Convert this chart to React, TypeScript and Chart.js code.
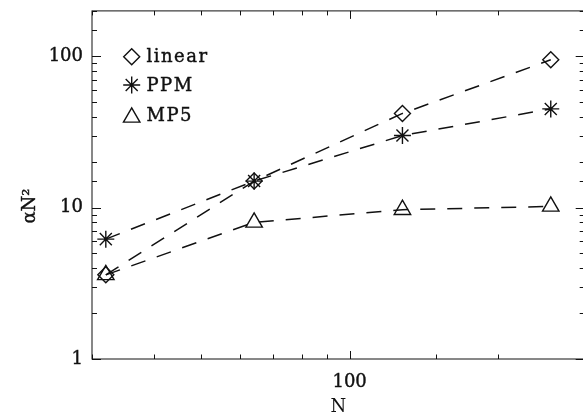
import React, { useEffect, useRef } from 'react';
import { Chart, registerables } from 'chart.js';

Chart.register(...registerables);

// ---- data ----
const nValues = [32, 64, 128, 256];
const linearValues = [3.6, 15, 42, 95];
const ppmValues = [6.2, 15, 30, 45];
const mp5Values = [3.6, 8.0, 9.7, 10.2];
const seriesNames = ['linear', 'PPM', 'MP5'];
const xTickLabels = [100];
const yTickLabels = [1, 10, 100];
const xLabel = 'N';
const yLabel = 'αN²';

const FONT = "'DejaVu Serif', serif";
const INK = '#111';

function isDecade(v: number) {
  const l = Math.log10(v);
  return Math.abs(l - Math.round(l)) < 1e-6;
}

function symbolPath(ctx: CanvasRenderingContext2D, style: string, x: number, y: number, r: number) {
  ctx.beginPath();
  if (style === 'rectRot') {
    ctx.moveTo(x - r, y);
    ctx.lineTo(x, y - r);
    ctx.lineTo(x + r, y);
    ctx.lineTo(x, y + r);
    ctx.closePath();
  } else if (style === 'star') {
    ctx.moveTo(x, y - r); ctx.lineTo(x, y + r);
    ctx.moveTo(x - r, y); ctx.lineTo(x + r, y);
    const d = r * Math.SQRT1_2;
    ctx.moveTo(x - d, y - d); ctx.lineTo(x + d, y + d);
    ctx.moveTo(x - d, y + d); ctx.lineTo(x + d, y - d);
  } else if (style === 'triangle') {
    const s = Math.sin(Math.PI / 3) * r;
    ctx.moveTo(x, y - r * 0.75);
    ctx.lineTo(x + s, y + r * 0.75);
    ctx.lineTo(x - s, y + r * 0.75);
    ctx.closePath();
  }
  ctx.stroke();
}

const framePlugin = {
  id: 'frame',
  afterDraw(chart: any) {
    const { ctx, chartArea: a, scales } = chart;
    ctx.save();
    ctx.strokeStyle = INK;
    ctx.lineWidth = 1;
    ctx.strokeRect(a.left, a.top, a.right - a.left, a.bottom - a.top);
    const seg = (x1: number, y1: number, x2: number, y2: number) => {
      ctx.beginPath(); ctx.moveTo(x1, y1); ctx.lineTo(x2, y2); ctx.stroke();
    };
    for (const t of scales.x.ticks) {
      const px = Math.round(scales.x.getPixelForValue(t.value)) + 0.5;
      const len = isDecade(t.value) ? 8 : 4.5;
      seg(px, a.bottom, px, a.bottom - len);
      seg(px, a.top, px, a.top + len);
    }
    for (const t of scales.y.ticks) {
      const py = Math.round(scales.y.getPixelForValue(t.value)) + 0.5;
      const len = isDecade(t.value) ? 9 : 5;
      seg(a.left, py, a.left + len, py);
      seg(a.right, py, a.right - len, py);
    }
    // y-axis title
    ctx.fillStyle = INK;
    ctx.strokeStyle = INK;
    ctx.font = `18px ${FONT}`;
    ctx.textAlign = 'center';
    ctx.textBaseline = 'middle';
    ctx.save();
    ctx.translate(30, 206);
    ctx.rotate(-Math.PI / 2);
    ctx.lineWidth = 0.4;
    ctx.fillText(yLabel, 0, 0);
    ctx.strokeText(yLabel, 0, 0);
    ctx.restore();
    // legend
    const styles = ['rectRot', 'star', 'triangle'];
    const radii = [8, 8.5, 9.5];
    const ys = [56.7, 85, 115];
    (ctx as any).letterSpacing = '1.5px';
    ctx.textAlign = 'left';
    seriesNames.forEach((name, i) => {
      ctx.lineWidth = 1.4;
      symbolPath(ctx, styles[i], 131.7, ys[i], radii[i]);
      ctx.lineWidth = 0.4;
      ctx.fillText(name, 146.5, ys[i] + 1);
      ctx.strokeText(name, 146.5, ys[i] + 1);
    });
    ctx.restore();
  },
};

export default function App() {
  const ref = useRef<HTMLCanvasElement | null>(null);
  useEffect(() => {
    if (!ref.current) return;
    Chart.defaults.font.family = FONT;
    Chart.defaults.color = INK;
    const mk = (label: string, data: number[], style: string, r: number) => ({
      label,
      data: nValues.map((n, i) => ({ x: n, y: data[i] })),
      borderColor: INK,
      backgroundColor: 'rgba(0,0,0,0)',
      borderWidth: 1.5,
      borderDash: [15, 12],
      pointStyle: style,
      pointRadius: r,
      pointBorderColor: INK,
      pointBackgroundColor: 'rgba(0,0,0,0)',
      pointBorderWidth: 1.4,
      showLine: true,
      fill: false,
      tension: 0,
    });
    const zeroPad = (s: any) => {
      s.paddingTop = 0; s.paddingBottom = 0; s.paddingLeft = 0; s.paddingRight = 0;
    };
    const chart = new Chart(ref.current, {
      type: 'scatter',
      data: {
        datasets: [
          mk(seriesNames[0], linearValues, 'rectRot', 8),
          mk(seriesNames[1], ppmValues, 'star', 8.5),
          mk(seriesNames[2], mp5Values, 'triangle', 9.5),
        ],
      },
      options: {
        responsive: false,
        animation: false,
        layout: { padding: { left: 0, right: 600 - 584.7, top: 8.3, bottom: 0 } },
        plugins: { legend: { display: false }, tooltip: { enabled: false } },
        scales: {
          x: {
            type: 'logarithmic',
            min: 30,
            max: 300,
            grid: { display: false, drawTicks: false },
            border: { display: false },
            ticks: {
              autoSkip: false,
              maxRotation: 0,
              padding: 13,
              font: { size: 18, family: FONT },
              color: INK,
              textStrokeColor: INK,
              textStrokeWidth: 0.4,
              callback: (v: any) => (xTickLabels.includes(Number(v)) ? String(v) : ''),
            },
            title: {
              display: true,
              text: xLabel,
              font: { size: 18, family: FONT },
              color: INK,
              padding: { top: 0, bottom: 0 },
            },
            afterFit: (s: any) => { s.height = 59; zeroPad(s); },
          },
          y: {
            type: 'logarithmic',
            min: 1,
            max: 200,
            grid: { display: false, drawTicks: false },
            border: { display: false },
            ticks: {
              autoSkip: false,
              padding: 9,
              font: { size: 18, family: FONT },
              color: INK,
              textStrokeColor: INK,
              textStrokeWidth: 0.4,
              callback: (v: any) => (yTickLabels.includes(Number(v)) ? String(v) : ''),
            },
            title: { display: false },
            afterFit: (s: any) => { s.width = 92; zeroPad(s); },
          },
        },
      },
      plugins: [framePlugin],
    });
    return () => chart.destroy();
  }, []);
  return (
    <div style={{ position: 'fixed', left: 0, top: 0, width: 583, height: 418, overflow: 'hidden', background: '#fff' }}>
      <canvas ref={ref} width={600} height={418} style={{ width: 600, height: 418, display: 'block' }} />
    </div>
  );
}
